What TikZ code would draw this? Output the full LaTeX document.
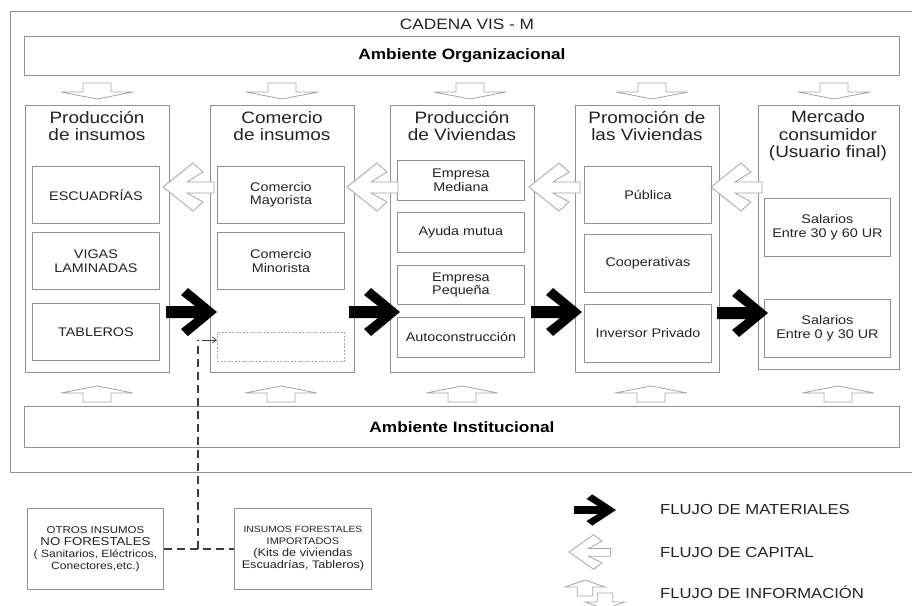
\documentclass[tikz,border=0pt]{standalone}
\usepackage{fontspec}
\setmainfont{Liberation Sans}[FakeStretch=1.15]
\usetikzlibrary{arrows.meta,calc}

\definecolor{linegray}{RGB}{145,145,145}
\definecolor{arrowgray}{RGB}{165,165,165}
\definecolor{txtgray}{RGB}{35,35,35}
\definecolor{dashgray}{RGB}{60,60,60}

\begin{document}
\begin{tikzpicture}[x=1pt,y=-1pt,
  frame/.style={draw=linegray, line width=0.9pt, inner sep=0pt, anchor=north west},
  colbox/.style={frame, minimum width=144pt, minimum height=267pt},
  item/.style={frame, minimum width=127pt, align=center, text=txtgray,
    font=\fontsize{12.5}{13.5}\selectfont},
  coltitle/.style={align=center, text=txtgray, inner sep=0pt,
    font=\fontsize{16.5}{17.5}\selectfont},
  envbox/.style={frame, minimum width=875pt, font=\bfseries\fontsize{15}{17}\selectfont},
  srcbox/.style={frame, minimum width=136pt, minimum height=81pt, align=center, text=txtgray},
  legendtxt/.style={anchor=west, inner sep=0pt, text=txtgray, font=\fontsize{14.5}{16}\selectfont},
  dashlink/.style={draw=dashgray, line width=1.2pt, dash pattern=on 8pt off 5pt},
  hollow/.style={draw=arrowgray, fill=white, line width=0.8pt, line join=miter},
  matarrow/.pic={\fill[black] (0,0) -- (-29,-24) -- (-36,-17) -- (-22,-6) -- (-51,-6)
      -- (-51,6) -- (-22,6) -- (-36,17) -- (-29,24) -- cycle;},
  caparrow/.pic={\filldraw[hollow] (0,0) -- (30,-24) -- (40,-15) -- (24,-5) -- (51,-5)
      -- (51,6) -- (24,6) -- (40,15) -- (30,24) -- cycle;},
  infoarrow/.pic={\filldraw[hollow] (0,0) -- (-36,-7) -- (-14,-7) -- (-14,-16) -- (14,-16)
      -- (14,-7) -- (36,-7) -- cycle;}
]
\useasboundingbox (0,0) rectangle (912,605);
\fill[white] (0,0) rectangle (912,605);

% chain frame and title
\node[frame, minimum width=906pt, minimum height=461pt] (cadena) at (10,11) {};
\node[text=txtgray, font=\fontsize{15}{17}\selectfont] (title) at (467,24) {CADENA VIS - M};

% environments
\node[envbox, minimum height=39pt] (org) at (24,36) {Ambiente Organizacional};
\node[envbox, minimum height=41pt] (inst) at (24,406) {Ambiente Institucional};

% columns of the chain
\node[colbox] (c1) at (25,105) {};
\node[colbox] (c2) at (210,105) {};
\node[colbox] (c3) at (390,105) {};
\node[colbox] (c4) at (575,105) {};
\node[colbox, minimum width=141pt, minimum height=264pt] (c5) at (758,105) {};

\node[coltitle] (t1) at (97,126) {Producción\\de insumos};
\node[coltitle] (t2) at (282,126) {Comercio\\de insumos};
\node[coltitle] (t3) at (462,126) {Producción\\de Viviendas};
\node[coltitle] (t4) at (647,126) {Promoción de\\las Viviendas};
\node[coltitle] (t5) at (828,136) {Mercado\\consumidor\\(Usuario final)};

% production of inputs
\node[item, minimum height=57pt] (escuadrias) at (32,166) {ESCUADRÍAS};
\node[item, minimum height=57pt] (vigas) at (32,232) {VIGAS\\LAMINADAS};
\node[item, minimum height=57pt] (tableros) at (32,303) {TABLEROS};

% trade of inputs
\node[item, minimum height=57pt] (mayorista) at (217,166) {Comercio\\Mayorista};
\node[item, minimum height=57pt] (minorista) at (217,232) {Comercio\\Minorista};
\node[item, minimum height=29pt, draw=linegray!80, dash pattern=on 2pt off 1.5pt] (otrobox) at (217,332) {};

% housing production
\node[item, minimum height=40pt] (mediana) at (397,160) {Empresa\\Mediana};
\node[item, minimum height=40pt] (ayuda) at (397,212) {Ayuda mutua};
\node[item, minimum height=39pt] (pequena) at (397,265) {Empresa\\Pequeña};
\node[item, minimum height=40pt] (autocons) at (397,317) {Autoconstrucción};

% housing promotion
\node[item, minimum height=57pt] (publica) at (584,166) {Pública};
\node[item, minimum height=58pt] (coop) at (584,234) {Cooperativas};
\node[item, minimum height=58pt] (inversor) at (584,304) {Inversor Privado};

% consumer market
\node[item, minimum width=126pt, minimum height=58pt] (sal1) at (764,198) {Salarios\\Entre 30 y 60 UR};
\node[item, minimum width=126pt, minimum height=58pt] (sal2) at (764,299) {Salarios\\Entre 0 y 30 UR};

% information flows
\pic at (97,99) {infoarrow};
\pic at (282,99) {infoarrow};
\pic at (470,99) {infoarrow};
\pic at (652,99) {infoarrow};
\pic at (834,99) {infoarrow};
\pic[rotate=180] at (97,386) {infoarrow};
\pic[rotate=180] at (281,386) {infoarrow};
\pic[rotate=180] at (462,386) {infoarrow};
\pic[rotate=180] at (651,386) {infoarrow};
\pic[rotate=180] at (838,386) {infoarrow};

% capital flows
\pic at (163,187) {caparrow};
\pic at (347,187) {caparrow};
\pic at (529,187) {caparrow};
\pic at (711,187) {caparrow};

% material flows
\pic at (217,312) {matarrow};
\pic at (400,312) {matarrow};
\pic at (582,312) {matarrow};
\pic at (768,313) {matarrow};

% other inputs
\node[srcbox] (otros) at (27,508) {\fontsize{10}{14}\selectfont OTROS INSUMOS\\
  \fontsize{11.5}{14}\selectfont NO FORESTALES\\
  \fontsize{10.5}{14}\selectfont ( Sanitarios, Eléctricos,\\
  \fontsize{10.5}{14}\selectfont Conectores,etc.)};
\node[srcbox, minimum width=137pt] (importados) at (234,508) {\fontsize{9}{14}\selectfont INSUMOS FORESTALES\\
  \fontsize{9.5}{14}\selectfont IMPORTADOS\\
  \fontsize{11}{14}\selectfont (Kits de viviendas\\
  \fontsize{11}{14}\selectfont Escuadrías, Tableros)};

\coordinate (join) at (198,548.5);
\coordinate (turn) at (198,340);
\draw[dashlink] (otros.east) -- (importados.west);
\draw[dashlink] (join) -- (turn);
\draw[draw=dashgray, line width=0.7pt, -{Straight Barb[length=4pt,width=6pt]}]
  ([xshift=4pt]turn) -- (turn -| otrobox.west);

% legend
\pic[xscale=0.82, yscale=0.65] at (616,510) {matarrow};
\node[legendtxt] (lmat) at (660,510) {FLUJO DE MATERIALES};
\pic[xscale=0.82, yscale=0.72] at (569,552) {caparrow};
\node[legendtxt] (lcap) at (660,552) {FLUJO DE CAPITAL};
\pic[xscale=0.55, yscale=1.0] at (605,609) {infoarrow};
\pic[rotate=180, xscale=0.55, yscale=1.0] at (585,580) {infoarrow};
\node[legendtxt] (linf) at (660,592) {FLUJO DE INFORMACIÓN};
\end{tikzpicture}
\end{document}
